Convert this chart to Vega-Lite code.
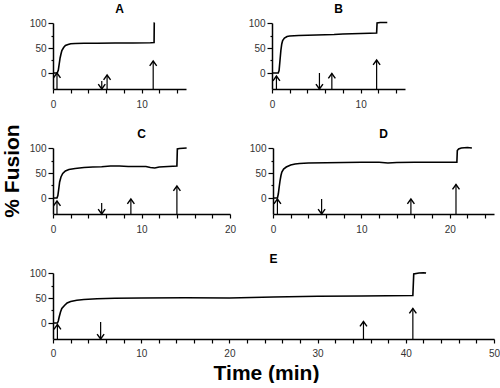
{
  "$schema": "https://vega.github.io/schema/vega-lite/v6.json",
  "padding": {"left": 2, "top": 3, "right": 0, "bottom": 0},
  "background": "white",
  "title": {"text": "% Fusion", "orient": "left", "anchor": "middle", "fontSize": 21, "fontWeight": "bold", "font": "Liberation Sans", "color": "black", "offset": 2, "dx": 22},
  "config": {
    "font": "Liberation Sans",
    "view": {"stroke": null},
    "axis": {"domainColor": "black", "domainWidth": 1.5, "tickColor": "black", "tickWidth": 1.2, "labelFontSize": 10, "labelColor": "#333", "labelFont": "Liberation Sans", "grid": false, "labelFlush": false, "labelOverlap": false, "title": null},
    "title": {"fontSize": 12, "fontWeight": "bold", "font": "Liberation Sans", "color": "black", "offset": 2},
    "concat": {"spacing": 10}
  },
  "datasets": {
    "trace": [
      {"panel": "A", "t": 0, "v": 0}, {"panel": "A", "t": 0.4, "v": 0}, {"panel": "A", "t": 0.5, "v": 1}, {"panel": "A", "t": 0.6, "v": 6}, {"panel": "A", "t": 0.7, "v": 18}, {"panel": "A", "t": 0.8, "v": 30}, {"panel": "A", "t": 0.9, "v": 38}, {"panel": "A", "t": 1.0, "v": 45}, {"panel": "A", "t": 1.2, "v": 51}, {"panel": "A", "t": 1.4, "v": 55}, {"panel": "A", "t": 1.7, "v": 57}, {"panel": "A", "t": 2.0, "v": 58.5}, {"panel": "A", "t": 2.5, "v": 59}, {"panel": "A", "t": 3.5, "v": 59.5}, {"panel": "A", "t": 5, "v": 59.5}, {"panel": "A", "t": 7, "v": 60}, {"panel": "A", "t": 9, "v": 60}, {"panel": "A", "t": 11, "v": 60.5}, {"panel": "A", "t": 11.4, "v": 61}, {"panel": "A", "t": 11.42, "v": 100}, {"panel": "A", "t": 11.45, "v": 101},
      {"panel": "B", "t": 0, "v": 0}, {"panel": "B", "t": 0.7, "v": 0}, {"panel": "B", "t": 0.8, "v": 5}, {"panel": "B", "t": 0.9, "v": 25}, {"panel": "B", "t": 1.0, "v": 45}, {"panel": "B", "t": 1.1, "v": 58}, {"panel": "B", "t": 1.2, "v": 65}, {"panel": "B", "t": 1.4, "v": 70}, {"panel": "B", "t": 1.7, "v": 73}, {"panel": "B", "t": 2, "v": 74}, {"panel": "B", "t": 3, "v": 75}, {"panel": "B", "t": 4, "v": 75.5}, {"panel": "B", "t": 5, "v": 76}, {"panel": "B", "t": 6, "v": 76.5}, {"panel": "B", "t": 7, "v": 77}, {"panel": "B", "t": 8, "v": 78}, {"panel": "B", "t": 9, "v": 78.5}, {"panel": "B", "t": 10, "v": 79}, {"panel": "B", "t": 11, "v": 79.5}, {"panel": "B", "t": 11.8, "v": 80}, {"panel": "B", "t": 11.85, "v": 100}, {"panel": "B", "t": 12.2, "v": 101}, {"panel": "B", "t": 13, "v": 101},
      {"panel": "C", "t": 0, "v": 0}, {"panel": "C", "t": 0.45, "v": 0}, {"panel": "C", "t": 0.55, "v": 5}, {"panel": "C", "t": 0.65, "v": 18}, {"panel": "C", "t": 0.75, "v": 32}, {"panel": "C", "t": 0.9, "v": 42}, {"panel": "C", "t": 1.1, "v": 49}, {"panel": "C", "t": 1.4, "v": 54}, {"panel": "C", "t": 1.8, "v": 57}, {"panel": "C", "t": 2.5, "v": 59}, {"panel": "C", "t": 3.5, "v": 61}, {"panel": "C", "t": 4.5, "v": 62}, {"panel": "C", "t": 5.5, "v": 62.5}, {"panel": "C", "t": 6.5, "v": 64}, {"panel": "C", "t": 7.5, "v": 64}, {"panel": "C", "t": 8.5, "v": 63}, {"panel": "C", "t": 9.5, "v": 63}, {"panel": "C", "t": 10.5, "v": 63}, {"panel": "C", "t": 11, "v": 61}, {"panel": "C", "t": 11.5, "v": 60}, {"panel": "C", "t": 12, "v": 62}, {"panel": "C", "t": 13, "v": 63}, {"panel": "C", "t": 14.0, "v": 64}, {"panel": "C", "t": 14.05, "v": 98}, {"panel": "C", "t": 14.3, "v": 99}, {"panel": "C", "t": 15.1, "v": 100},
      {"panel": "D", "t": 0, "v": 0}, {"panel": "D", "t": 0.5, "v": 0}, {"panel": "D", "t": 0.6, "v": 8}, {"panel": "D", "t": 0.7, "v": 22}, {"panel": "D", "t": 0.8, "v": 35}, {"panel": "D", "t": 0.9, "v": 45}, {"panel": "D", "t": 1.0, "v": 52}, {"panel": "D", "t": 1.2, "v": 58}, {"panel": "D", "t": 1.5, "v": 62}, {"panel": "D", "t": 2, "v": 66}, {"panel": "D", "t": 2.5, "v": 68}, {"panel": "D", "t": 3, "v": 69}, {"panel": "D", "t": 4, "v": 70}, {"panel": "D", "t": 6, "v": 70.5}, {"panel": "D", "t": 8, "v": 71}, {"panel": "D", "t": 10, "v": 71.5}, {"panel": "D", "t": 12, "v": 71.5}, {"panel": "D", "t": 13, "v": 70}, {"panel": "D", "t": 14, "v": 71}, {"panel": "D", "t": 16, "v": 71.5}, {"panel": "D", "t": 18, "v": 71.5}, {"panel": "D", "t": 20.8, "v": 71.5}, {"panel": "D", "t": 20.85, "v": 95}, {"panel": "D", "t": 21.0, "v": 98}, {"panel": "D", "t": 21.3, "v": 100}, {"panel": "D", "t": 22, "v": 101}, {"panel": "D", "t": 22.5, "v": 100},
      {"panel": "E", "t": 0, "v": 0}, {"panel": "E", "t": 0.5, "v": 0}, {"panel": "E", "t": 0.6, "v": 4}, {"panel": "E", "t": 0.7, "v": 12}, {"panel": "E", "t": 0.85, "v": 22}, {"panel": "E", "t": 1.0, "v": 29}, {"panel": "E", "t": 1.3, "v": 35}, {"panel": "E", "t": 1.6, "v": 40}, {"panel": "E", "t": 2, "v": 43}, {"panel": "E", "t": 2.7, "v": 45.5}, {"panel": "E", "t": 3.5, "v": 47}, {"panel": "E", "t": 5, "v": 48.5}, {"panel": "E", "t": 7, "v": 49.5}, {"panel": "E", "t": 10, "v": 50}, {"panel": "E", "t": 15, "v": 50.5}, {"panel": "E", "t": 20, "v": 50}, {"panel": "E", "t": 25, "v": 52}, {"panel": "E", "t": 30, "v": 53.5}, {"panel": "E", "t": 35, "v": 54}, {"panel": "E", "t": 40.8, "v": 55}, {"panel": "E", "t": 40.9, "v": 98}, {"panel": "E", "t": 41.5, "v": 100}, {"panel": "E", "t": 42, "v": 100.5}, {"panel": "E", "t": 42.3, "v": 100}
    ],
    "arrows": [
      {"panel": "A", "t": 0.45, "top": 0, "bottom": -32, "head": 0, "dir": "up"},
      {"panel": "A", "t": 5.5, "top": -16, "bottom": -32, "head": -32, "dir": "down"},
      {"panel": "A", "t": 6.1, "top": -4, "bottom": -32, "head": -4, "dir": "up"},
      {"panel": "A", "t": 11.3, "top": 24, "bottom": -32, "head": 24, "dir": "up"},
      {"panel": "B", "t": 0.5, "top": -6, "bottom": -32, "head": -6, "dir": "up"},
      {"panel": "B", "t": 5.35, "top": 0, "bottom": -32, "head": -32, "dir": "down"},
      {"panel": "B", "t": 6.75, "top": -1, "bottom": -32, "head": -1, "dir": "up"},
      {"panel": "B", "t": 11.8, "top": 26, "bottom": -32, "head": 26, "dir": "up"},
      {"panel": "C", "t": 0.45, "top": -6, "bottom": -32, "head": -6, "dir": "up"},
      {"panel": "C", "t": 5.5, "top": -10, "bottom": -32, "head": -32, "dir": "down"},
      {"panel": "C", "t": 8.8, "top": -2, "bottom": -32, "head": -2, "dir": "up"},
      {"panel": "C", "t": 14.0, "top": 24, "bottom": -32, "head": 24, "dir": "up"},
      {"panel": "D", "t": 0.5, "top": -2, "bottom": -32, "head": -2, "dir": "up"},
      {"panel": "D", "t": 5.5, "top": -2, "bottom": -32, "head": -32, "dir": "down"},
      {"panel": "D", "t": 15.6, "top": -2, "bottom": -32, "head": -2, "dir": "up"},
      {"panel": "D", "t": 20.7, "top": 27, "bottom": -32, "head": 27, "dir": "up"},
      {"panel": "E", "t": 0.5, "top": -3, "bottom": -32, "head": -3, "dir": "up"},
      {"panel": "E", "t": 5.4, "top": 2, "bottom": -32, "head": -32, "dir": "down"},
      {"panel": "E", "t": 35.2, "top": 3, "bottom": -32, "head": 3, "dir": "up"},
      {"panel": "E", "t": 40.8, "top": 29, "bottom": -32, "head": 29, "dir": "up"}
    ]
  },
  "vconcat": [
    {
      "hconcat": [
        {
          "width": 133, "height": 66, "title": "A",
          "resolve": {"axis": {"x": "independent", "y": "independent"}},
          "layer": [
            {"data": {"name": "trace"}, "transform": [{"filter": "datum.panel === 'A'"}], "mark": {"type": "line", "color": "black", "strokeWidth": 1.6},
             "encoding": {
               "x": {"field": "t", "type": "quantitative", "scale": {"domain": [0, 15], "nice": false}, "axis": {"values": [0, 10], "tickSize": 4, "labelPadding": 6}},
               "y": {"field": "v", "type": "quantitative", "scale": {"domain": [-32, 100], "nice": false, "zero": false}, "axis": {"values": [0, 50, 100], "tickSize": 5, "labelPadding": 2, "minExtent": 28, "maxExtent": 28}}
             }},
            {"data": {"name": "arrows"}, "transform": [{"filter": "datum.panel === 'A'"}], "mark": {"type": "rule", "color": "black", "strokeWidth": 1.2},
             "encoding": {"x": {"field": "t", "type": "quantitative", "axis": {"orient": "bottom", "values": [2, 4, 6, 8, 12, 14], "labels": false, "domain": false, "tickSize": 4}}, "y": {"field": "top", "type": "quantitative", "axis": {"orient": "left", "values": [25, 75], "labels": false, "domain": false, "tickSize": 2}}, "y2": {"field": "bottom"}}},
            {"data": {"name": "arrows"}, "transform": [{"filter": "datum.panel === 'A'"}], "mark": {"type": "point", "filled": false, "color": "black", "strokeWidth": 1.4, "size": 49, "opacity": 1},
             "encoding": {"x": {"field": "t", "type": "quantitative", "axis": null}, "y": {"field": "head", "type": "quantitative", "axis": null},
               "shape": {"field": "dir", "type": "nominal", "scale": {"domain": ["up", "down"], "range": ["M-1,1.4L0,0L1,1.4", "M-1,-1.4L0,0L1,-1.4"]}, "legend": null}}}
          ]
        },
        {
          "width": 133, "height": 66, "title": "B",
          "resolve": {"axis": {"x": "independent", "y": "independent"}},
          "layer": [
            {"data": {"name": "trace"}, "transform": [{"filter": "datum.panel === 'B'"}], "mark": {"type": "line", "color": "black", "strokeWidth": 1.6},
             "encoding": {
               "x": {"field": "t", "type": "quantitative", "scale": {"domain": [0, 15], "nice": false}, "axis": {"values": [0, 10], "tickSize": 4, "labelPadding": 6}},
               "y": {"field": "v", "type": "quantitative", "scale": {"domain": [-32, 100], "nice": false, "zero": false}, "axis": {"values": [0, 50, 100], "tickSize": 5, "labelPadding": 2, "minExtent": 28, "maxExtent": 28}}
             }},
            {"data": {"name": "arrows"}, "transform": [{"filter": "datum.panel === 'B'"}], "mark": {"type": "rule", "color": "black", "strokeWidth": 1.2},
             "encoding": {"x": {"field": "t", "type": "quantitative", "axis": {"orient": "bottom", "values": [2, 4, 6, 8, 12, 14], "labels": false, "domain": false, "tickSize": 4}}, "y": {"field": "top", "type": "quantitative", "axis": {"orient": "left", "values": [25, 75], "labels": false, "domain": false, "tickSize": 2}}, "y2": {"field": "bottom"}}},
            {"data": {"name": "arrows"}, "transform": [{"filter": "datum.panel === 'B'"}], "mark": {"type": "point", "filled": false, "color": "black", "strokeWidth": 1.4, "size": 49, "opacity": 1},
             "encoding": {"x": {"field": "t", "type": "quantitative", "axis": null}, "y": {"field": "head", "type": "quantitative", "axis": null},
               "shape": {"field": "dir", "type": "nominal", "scale": {"domain": ["up", "down"], "range": ["M-1,1.4L0,0L1,1.4", "M-1,-1.4L0,0L1,-1.4"]}, "legend": null}}}
          ]
        }
      ],
      "spacing": 58
    },
    {
      "hconcat": [
        {
          "width": 177, "height": 66, "title": "C",
          "resolve": {"axis": {"x": "independent", "y": "independent"}},
          "layer": [
            {"data": {"name": "trace"}, "transform": [{"filter": "datum.panel === 'C'"}], "mark": {"type": "line", "color": "black", "strokeWidth": 1.6},
             "encoding": {
               "x": {"field": "t", "type": "quantitative", "scale": {"domain": [0, 20], "nice": false}, "axis": {"values": [0, 10, 20], "tickSize": 4, "labelPadding": 6}},
               "y": {"field": "v", "type": "quantitative", "scale": {"domain": [-32, 100], "nice": false, "zero": false}, "axis": {"values": [0, 50, 100], "tickSize": 5, "labelPadding": 2, "minExtent": 28, "maxExtent": 28}}
             }},
            {"data": {"name": "arrows"}, "transform": [{"filter": "datum.panel === 'C'"}], "mark": {"type": "rule", "color": "black", "strokeWidth": 1.2},
             "encoding": {"x": {"field": "t", "type": "quantitative", "axis": {"orient": "bottom", "values": [2, 4, 6, 8, 12, 14, 16, 18], "labels": false, "domain": false, "tickSize": 4}}, "y": {"field": "top", "type": "quantitative", "axis": {"orient": "left", "values": [25, 75], "labels": false, "domain": false, "tickSize": 2}}, "y2": {"field": "bottom"}}},
            {"data": {"name": "arrows"}, "transform": [{"filter": "datum.panel === 'C'"}], "mark": {"type": "point", "filled": false, "color": "black", "strokeWidth": 1.4, "size": 49, "opacity": 1},
             "encoding": {"x": {"field": "t", "type": "quantitative", "axis": null}, "y": {"field": "head", "type": "quantitative", "axis": null},
               "shape": {"field": "dir", "type": "nominal", "scale": {"domain": ["up", "down"], "range": ["M-1,1.4L0,0L1,1.4", "M-1,-1.4L0,0L1,-1.4"]}, "legend": null}}}
          ]
        },
        {
          "width": 221, "height": 66, "title": "D",
          "resolve": {"axis": {"x": "independent", "y": "independent"}},
          "layer": [
            {"data": {"name": "trace"}, "transform": [{"filter": "datum.panel === 'D'"}], "mark": {"type": "line", "color": "black", "strokeWidth": 1.6},
             "encoding": {
               "x": {"field": "t", "type": "quantitative", "scale": {"domain": [0, 25], "nice": false}, "axis": {"values": [0, 10, 20], "tickSize": 4, "labelPadding": 6}},
               "y": {"field": "v", "type": "quantitative", "scale": {"domain": [-32, 100], "nice": false, "zero": false}, "axis": {"values": [0, 50, 100], "tickSize": 5, "labelPadding": 2, "minExtent": 28, "maxExtent": 28}}
             }},
            {"data": {"name": "arrows"}, "transform": [{"filter": "datum.panel === 'D'"}], "mark": {"type": "rule", "color": "black", "strokeWidth": 1.2},
             "encoding": {"x": {"field": "t", "type": "quantitative", "axis": {"orient": "bottom", "values": [2, 4, 6, 8, 12, 14, 16, 18, 22, 24], "labels": false, "domain": false, "tickSize": 4}}, "y": {"field": "top", "type": "quantitative", "axis": {"orient": "left", "values": [25, 75], "labels": false, "domain": false, "tickSize": 2}}, "y2": {"field": "bottom"}}},
            {"data": {"name": "arrows"}, "transform": [{"filter": "datum.panel === 'D'"}], "mark": {"type": "point", "filled": false, "color": "black", "strokeWidth": 1.4, "size": 49, "opacity": 1},
             "encoding": {"x": {"field": "t", "type": "quantitative", "axis": null}, "y": {"field": "head", "type": "quantitative", "axis": null},
               "shape": {"field": "dir", "type": "nominal", "scale": {"domain": ["up", "down"], "range": ["M-1,1.4L0,0L1,1.4", "M-1,-1.4L0,0L1,-1.4"]}, "legend": null}}}
          ]
        }
      ],
      "spacing": 9
    },
    {
      "width": 441, "height": 66, "title": "E",
      "resolve": {"axis": {"x": "independent", "y": "independent"}},
      "layer": [
        {"data": {"name": "trace"}, "transform": [{"filter": "datum.panel === 'E'"}], "mark": {"type": "line", "color": "black", "strokeWidth": 1.6},
         "encoding": {
           "x": {"field": "t", "type": "quantitative", "scale": {"domain": [0, 50], "nice": false}, "axis": {"title": "Time (min)", "titleFontSize": 21, "titleFontWeight": "bold", "titleColor": "black", "titlePadding": 4, "titleX": 213, "values": [0, 10, 20, 30, 40, 50], "tickSize": 4, "labelPadding": 5}},
           "y": {"field": "v", "type": "quantitative", "scale": {"domain": [-32, 100], "nice": false, "zero": false}, "axis": {"values": [0, 50, 100], "tickSize": 5, "labelPadding": 2, "minExtent": 28, "maxExtent": 28}}
         }},
        {"data": {"name": "arrows"}, "transform": [{"filter": "datum.panel === 'E'"}], "mark": {"type": "rule", "color": "black", "strokeWidth": 1.2},
         "encoding": {"x": {"field": "t", "type": "quantitative", "axis": {"orient": "bottom", "values": [2, 4, 6, 8, 12, 14, 16, 18, 22, 24, 26, 28, 32, 34, 36, 38, 42, 44, 46, 48], "labels": false, "domain": false, "tickSize": 4}}, "y": {"field": "top", "type": "quantitative", "axis": {"orient": "left", "values": [25, 75], "labels": false, "domain": false, "tickSize": 2}}, "y2": {"field": "bottom"}}},
        {"data": {"name": "arrows"}, "transform": [{"filter": "datum.panel === 'E'"}], "mark": {"type": "point", "filled": false, "color": "black", "strokeWidth": 1.4, "size": 49, "opacity": 1},
         "encoding": {"x": {"field": "t", "type": "quantitative", "axis": null}, "y": {"field": "head", "type": "quantitative", "axis": null},
           "shape": {"field": "dir", "type": "nominal", "scale": {"domain": ["up", "down"], "range": ["M-1,1.4L0,0L1,1.4", "M-1,-1.4L0,0L1,-1.4"]}, "legend": null}}}
      ]
    }
  ],
  "spacing": 19
}
